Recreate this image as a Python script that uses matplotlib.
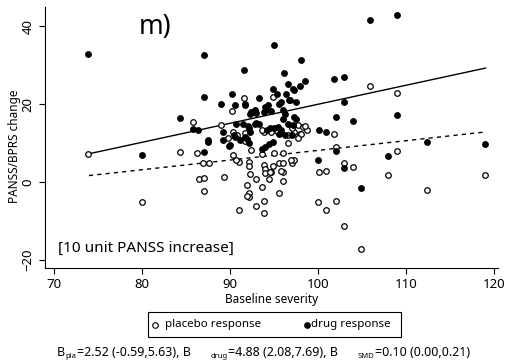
import matplotlib
matplotlib.use("Agg")
import matplotlib.pyplot as plt
from matplotlib.lines import Line2D
from matplotlib.patches import Rectangle

plt.rcParams['font.family'] = ['Noto Sans', 'DejaVu Sans']

# placebo response (open circles)
pla_x = [73.9, 80.0, 84.3, 85.8, 86.3, 86.9, 87.6, 86.5, 87.0, 87.0,
         89.0, 89.3, 90.2, 89.8, 90.8, 91.6, 91.7, 91.7, 90.3, 91.0,
         90.7, 92.1, 92.1, 92.3, 92.9, 91.9, 92.1, 92.1, 91.9, 91.0,
         92.9, 93.8, 93.6, 93.8, 93.9, 94.0, 94.0, 94.7, 94.4, 94.9,
         95.6, 96.0, 96.0, 96.0, 95.6, 97.0, 97.3, 95.0, 96.0, 96.6,
         97.9, 90.3, 92.4, 94.9, 97.7, 98.3, 98.7, 97.3, 98.1, 97.0,
         96.6, 93.8, 94.7, 95.3, 95.8, 93.6, 91.7, 97.7, 98.5, 101.8,
         102.0, 108.9, 102.9, 103.9, 100.1, 100.9, 107.9, 118.9, 112.4, 100.0,
         102.0, 100.9, 102.9, 104.9, 105.9, 108.9, 93.6, 95.8, 96.9, 94.5]
pla_y = [7.2, -5.2, 7.8, 15.5, 7.4, 4.8, 4.8, 0.8, 1.1, -2.2,
         14.6, 1.3, 18.3, 11.4, 12.1, 21.6, 20.2, 10.6, 6.9, 5.2,
         5.6, 5.2, 4.1, 2.2, 0.9, -0.8, -2.9, -3.8, -3.5, -7.2,
         -6.1, -4.9, -1.2, -7.8, 4.4, 3.5, 2.4, 2.6, 0.9, 4.1,
         4.8, 4.8, 2.6, 0.3, -2.9, 4.8, 5.8, 7.5, 7.5, 10.1,
         12.5, 12.9, 8.2, 21.9, 14.6, 14.2, 13.3, 12.9, 12.5, 13.8,
         12.1, 12.9, 12.9, 13.2, 12.6, 13.3, 12.6, 11.3, 14.4, 12.4,
         9.0, 7.9, 5.0, 3.9, 2.6, 2.8, 1.9, 1.9, -2.1, -5.2,
         -4.9, -7.1, -11.2, -17.2, 24.7, 22.8, 7.2, 2.9, 5.8, 2.6]

# drug response (filled circles)
drug_x = [73.9, 80.0, 84.3, 85.8, 86.4, 87.0, 87.0, 87.0, 87.5, 89.0,
          89.2, 89.2, 89.9, 90.2, 90.6, 90.7, 90.4, 90.6, 91.6, 91.7,
          91.5, 91.7, 91.9, 92.1, 92.2, 92.4, 92.8, 92.3, 93.3, 92.9,
          93.3, 92.3, 93.6, 94.0, 94.4, 94.9, 94.0, 94.1, 93.8, 94.3,
          94.9, 95.3, 95.6, 95.8, 96.1, 96.6, 97.1, 96.4, 96.7, 96.0,
          96.2, 96.0, 94.5, 95.0, 95.5, 94.2, 95.8, 95.6, 96.2, 97.0,
          96.6, 97.2, 98.0, 98.5, 97.9, 101.8, 102.9, 102.9, 102.0, 103.9,
          108.9, 100.1, 100.9, 102.0, 100.0, 107.9, 112.4, 118.9, 102.9, 104.9,
          105.9, 108.9, 90.0, 93.0, 92.0, 91.1, 97.3, 96.8, 97.5, 94.7,
          97.3, 97.5, 95.0, 87.5, 92.8]
drug_y = [32.8, 6.9, 16.4, 13.6, 13.3, 32.6, 21.9, 7.8, 10.4, 20.1,
          12.9, 10.9, 9.2, 22.7, 19.9, 15.0, 12.1, 11.6, 28.7, 19.9,
          15.0, 11.6, 11.0, 10.0, 13.8, 17.9, 18.5, 17.6, 21.5, 15.3,
          14.9, 12.9, 8.6, 9.1, 9.9, 10.3, 19.3, 18.5, 18.0, 19.7,
          23.8, 22.7, 20.2, 20.6, 28.1, 25.3, 24.0, 22.7, 21.2, 18.5,
          17.6, 16.3, 14.0, 13.8, 14.2, 13.4, 13.3, 12.5, 12.1, 12.1,
          15.0, 14.6, 31.3, 26.1, 24.7, 26.4, 27.1, 20.6, 16.7, 15.8,
          17.2, 13.4, 12.9, 8.0, 5.8, 6.8, 10.2, 9.9, 3.7, -1.6,
          41.7, 42.9, 9.5, 17.7, 14.5, 10.8, 23.6, 21.0, 20.6, 18.2,
          16.7, 16.3, 35.1, 10.9, 15.0]

# fitted lines
fit_x = [74, 119]
drug_fit = [7.3, 29.3]
pla_fit = [1.7, 12.9]

W, H = 505, 363
fig = plt.figure(figsize=(W / 100, H / 100), dpi=100)
ax = fig.add_axes([0.089, 0.262, 0.897, 0.719])

ax.scatter(pla_x, pla_y, s=16, facecolors='white', edgecolors='black', linewidths=0.9, zorder=3)
ax.scatter(drug_x, drug_y, s=16, facecolors='black', edgecolors='black', linewidths=0.9, zorder=4)
ax.plot(fit_x, drug_fit, color='black', lw=1.0, zorder=2)
ax.plot(fit_x, pla_fit, color='black', lw=1.0, ls=(0, (3, 3)), zorder=2)

ax.set_xlim(69.0, 120.4)
ax.set_ylim(-22, 45)
ax.set_xticks([70, 80, 90, 100, 110, 120])
ax.set_yticks([-20, 0, 20, 40])
for s in ['top', 'right']:
    ax.spines[s].set_visible(False)
ax.tick_params(direction='out', length=4, width=0.8, labelsize=9.5)
for lab in ax.get_yticklabels():
    lab.set_rotation(90)
    lab.set_va('center')

ax.set_xlabel('Baseline severity', fontsize=8.5, labelpad=1)
ax.set_ylabel('PANSS/BPRS change', fontsize=8.5)
ax.yaxis.set_label_coords(-0.052, 0.465)

ax.text(0.243, 0.923, 'm)', transform=ax.transAxes, fontsize=19, ha='center', va='center')
ax.text(0.029, 0.075, '[10 unit PANSS increase]', transform=ax.transAxes, fontsize=11, ha='left', va='center')

# legend box, drawn by hand (pixel positions)
fig.add_artist(Rectangle((148 / W, 26 / H), 253 / W, 25 / H, transform=fig.transFigure,
                         fill=False, edgecolor='black', lw=0.8))
fig.add_artist(Line2D([155 / W], [38.5 / H], transform=fig.transFigure, marker='o', ls='none',
                      mfc='white', mec='black', ms=4, mew=0.8))
fig.text(165 / W, 38.5 / H, 'placebo response', fontsize=8.3, va='center', ha='left')
fig.add_artist(Line2D([307 / W], [38.5 / H], transform=fig.transFigure, marker='o', ls='none',
                      mfc='black', mec='black', ms=4, mew=0.8))
fig.text(311 / W, 38.5 / H, 'drug response', fontsize=8.3, va='center', ha='left')

# coefficient line with small subscripts
pieces = [('B', 9, 0, 0.5), ('pla', 5.5, -2, 0),
          ('=2.52 (-0.59,5.63), B', 9, 0, 20), ('drug', 5.5, -2, 0),
          ('=4.88 (2.08,7.69), B', 9, 0, 20), ('SMD', 5.5, -2, 1),
          ('=0.10 (0.00,0.21)', 9, 0, 0)]
renderer = fig.canvas.get_renderer()
x = 57
for txt, size, dy, gap in pieces:
    t = fig.text(x / W, (7 + dy) / H, txt, fontsize=size, va='baseline', ha='left')
    x = t.get_window_extent(renderer).x1 + gap

fig.savefig('out.png', dpi=100)
